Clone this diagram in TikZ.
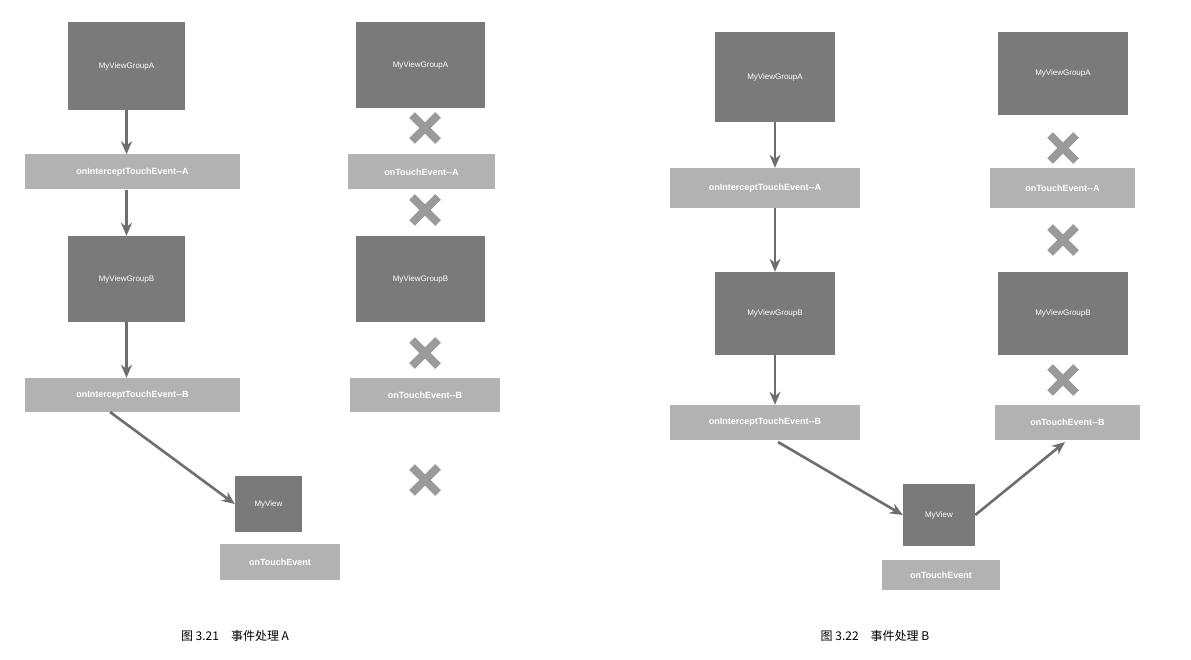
\documentclass[tikz,border=0pt]{standalone}
\usepackage{fontspec}
\setmainfont{Liberation Sans}
\newfontfamily\cjk{Noto Sans CJK SC}
\usetikzlibrary{arrows.meta}
\definecolor{boxc}{HTML}{7A7A7A}
\definecolor{labc}{HTML}{B2B2B2}
\definecolor{arrc}{HTML}{6E6E6E}
\definecolor{xc}{HTML}{9A9A9A}
\tikzset{
 bigbox/.style={fill=boxc,text=white,font=\footnotesize,inner sep=0pt},
 lab/.style={fill=labc,text=white,font=\small\bfseries,inner sep=0pt},
 conn/.style={draw=arrc,line width=2.6pt,-{Stealth[length=13pt,width=11pt]}},
 cross/.style={draw=xc,line width=8pt},
}
\newcommand{\mycross}[2]{\draw[cross] (#1-13,#2-13) -- (#1+13,#2+13) (#1-13,#2+13) -- (#1+13,#2-13);}
\begin{document}
\begin{tikzpicture}[x=1pt,y=-1pt]
\useasboundingbox (0,0) rectangle (1191,660);
\fill[white] (0,0) rectangle (1191,660);
% left figure
\node[bigbox,minimum width=117,minimum height=88] (a1) at (126.5,66) {MyViewGroupA};
\node[lab,minimum width=215,minimum height=35] (l1) at (132.5,172) {onInterceptTouchEvent{-}{-}A};
\node[bigbox,minimum width=117,minimum height=86] (b1) at (126.5,279) {MyViewGroupB};
\node[lab,minimum width=215,minimum height=34] (l2) at (132.5,395) {onInterceptTouchEvent{-}{-}B};
\node[bigbox,minimum width=67,minimum height=56] (v1) at (268.5,504) {MyView};
\node[lab,minimum width=120,minimum height=36] (t1) at (280,562) {onTouchEvent};
\draw[conn] (a1.south) -- (a1.south|-l1.north);
\draw[conn] (a1.south|-l1.south) -- (b1.north);
\draw[conn] (b1.south) -- (b1.south|-l2.north);
\draw[conn] (110,412) -- (v1.west);
\node[bigbox,minimum width=129,minimum height=86] (a2) at (420.5,65) {MyViewGroupA};
\node[lab,minimum width=147,minimum height=35] (l3) at (421.5,172) {onTouchEvent{-}{-}A};
\node[bigbox,minimum width=129,minimum height=86] (b2) at (420.5,279) {MyViewGroupB};
\node[lab,minimum width=150,minimum height=34] (l4) at (425,395) {onTouchEvent{-}{-}B};
\mycross{425}{128}\mycross{425}{210}\mycross{425}{353}\mycross{425}{480}
\node[font=\cjk\large] (c1) at (235,636) {图 3.21\quad 事件处理 A};
% right figure
\node[bigbox,minimum width=120,minimum height=90] (a3) at (775,77) {MyViewGroupA};
\node[lab,minimum width=190,minimum height=40] (l5) at (765,188) {onInterceptTouchEvent{-}{-}A};
\node[bigbox,minimum width=120,minimum height=83] (b3) at (775,313.5) {MyViewGroupB};
\node[lab,minimum width=190,minimum height=35] (l6) at (765,422.5) {onInterceptTouchEvent{-}{-}B};
\node[bigbox,minimum width=72,minimum height=62] (v2) at (939,515) {MyView};
\node[lab,minimum width=118,minimum height=30] (t2) at (941,575) {onTouchEvent};
\draw[conn] (a3.south) -- (a3.south|-l5.north);
\draw[conn] (a3.south|-l5.south) -- (b3.north);
\draw[conn] (b3.south) -- (b3.south|-l6.north);
\draw[conn] (778,442) -- (v2.west);
\draw[conn] (v2.east) -- (1065,442);
\node[bigbox,minimum width=130,minimum height=83] (a4) at (1063,73.5) {MyViewGroupA};
\node[lab,minimum width=145,minimum height=40] (l7) at (1062.5,188) {onTouchEvent{-}{-}A};
\node[bigbox,minimum width=130,minimum height=83] (b4) at (1063,313.5) {MyViewGroupB};
\node[lab,minimum width=145,minimum height=35] (l8) at (1067.5,422.5) {onTouchEvent{-}{-}B};
\mycross{1063}{148}\mycross{1063}{240}\mycross{1063}{380}
\node[font=\cjk\large] (c2) at (875,636) {图 3.22\quad 事件处理 B};
\end{tikzpicture}
\end{document}
